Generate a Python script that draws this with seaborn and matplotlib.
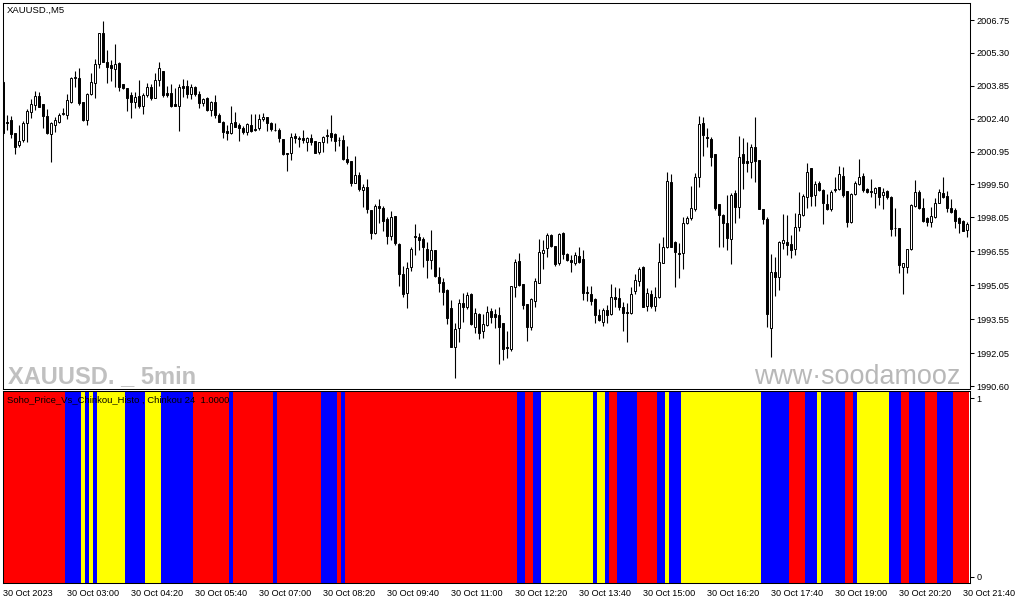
import matplotlib
matplotlib.use("Agg")
import matplotlib.pyplot as plt
import seaborn as sns
import pandas as pd
import numpy as np

# Velas XAUUSD M5 (30 Oct 2023, desde 01:40)
apertura = [
    2004.01, 2002.27, 2002.34, 2001.77, 2001.24, 2001.46, 2002.21, 2002.69, 2003.00, 2003.40,
    2003.04, 2002.51, 2001.72, 2002.12, 2002.25, 2002.60, 2002.56, 2003.13, 2004.19, 2004.19,
    2003.13, 2002.34, 2003.48, 2003.97, 2004.81, 2006.17, 2004.90, 2004.76, 2004.59, 2004.85,
    2003.93, 2003.75, 2003.44, 2003.13, 2003.40, 2002.96, 2003.44, 2003.79, 2003.31, 2004.10,
    2004.50, 2003.53, 2003.53, 2003.04, 2002.96, 2003.84, 2003.84, 2003.48, 2003.79, 2003.48,
    2003.09, 2003.31, 2002.78, 2003.13, 2002.56, 2002.25, 2001.85, 2001.77, 2002.25, 2002.12,
    2001.99, 2001.81, 2002.12, 2001.96, 2001.99, 2002.38, 2002.47, 2002.21, 2001.92, 2001.90,
    2001.50, 2000.88, 2000.88, 2001.63, 2001.56, 2001.54, 2001.37, 2001.54, 2001.41, 2000.93,
    2001.37, 2001.63, 2001.77, 2001.72, 2001.48, 2001.46, 2000.62, 2000.53, 1999.56, 1999.91,
    1999.25, 1999.38, 1998.37, 1997.36, 1998.55, 1998.46, 1997.97, 1997.22, 1998.11, 1996.87,
    1995.55, 1994.71, 1995.85, 1997.22, 1997.18, 1997.09, 1996.65, 1996.17, 1996.61, 1995.42,
    1995.20, 1994.84, 1994.05, 1992.33, 1993.17, 1994.27, 1994.09, 1994.67, 1993.21, 1993.78,
    1993.03, 1993.30, 1993.92, 1993.78, 1993.74, 1993.39, 1992.33, 1992.24, 1994.97, 1996.12,
    1995.11, 1994.22, 1993.21, 1994.36, 1995.15, 1996.47, 1996.69, 1997.27, 1996.78, 1996.03,
    1997.36, 1996.43, 1996.17, 1996.03, 1996.34, 1996.21, 1994.75, 1994.67, 1994.44, 1993.74,
    1993.43, 1993.96, 1993.78, 1994.53, 1994.49, 1994.09, 1993.87, 1993.83, 1994.80, 1995.24,
    1995.85, 1994.14, 1994.67, 1994.14, 1994.53, 1996.03, 1996.74, 1999.61, 1996.96, 1996.47,
    1996.47, 1997.80, 1998.02, 1998.41, 1999.82, 2002.21, 2001.59, 2001.50, 2000.84, 1998.63,
    1998.15, 1997.80, 1997.09, 1999.12, 1998.50, 2000.84, 2000.53, 2000.49, 2001.15, 2000.57,
    1998.41, 1997.97, 1993.17, 1995.63, 1995.42, 1996.91, 1996.96, 1996.87, 1996.65, 1997.62,
    1998.15, 1998.94, 2000.22, 1999.03, 1999.56, 1999.25, 1998.63, 1998.41, 1999.30, 1999.30,
    1999.87, 1999.21, 1997.84, 1999.07, 1999.52, 1999.87, 1999.30, 1999.21, 1999.12, 1999.38,
    1999.03, 1999.21, 1998.94, 1997.60, 1997.58, 1995.85, 1995.85, 1996.65, 1998.55, 1999.16,
    1998.46, 1998.02, 1997.84, 1998.06, 1998.68, 1999.12, 1998.99, 1998.46, 1998.37, 1998.02,
    1997.89, 1997.49,
]
maximo = [
    2004.10, 2002.56, 2002.51, 2001.77, 2002.12, 2002.29, 2002.82, 2003.26, 2003.62, 2003.57,
    2003.04, 2002.82, 2002.25, 2002.47, 2002.65, 2002.87, 2003.48, 2004.23, 2004.50, 2004.63,
    2003.13, 2003.53, 2004.41, 2005.03, 2006.17, 2006.70, 2005.42, 2004.98, 2005.69, 2004.90,
    2003.93, 2003.75, 2003.57, 2003.57, 2004.10, 2003.53, 2003.97, 2003.93, 2004.41, 2004.90,
    2004.50, 2003.84, 2003.93, 2003.75, 2003.93, 2004.15, 2004.10, 2003.93, 2003.84, 2003.62,
    2003.31, 2003.35, 2003.18, 2003.44, 2002.65, 2002.29, 2002.12, 2002.96, 2002.69, 2002.21,
    2002.07, 2002.21, 2002.60, 2002.60, 2002.60, 2002.65, 2002.47, 2002.25, 2002.21, 2001.99,
    2001.50, 2000.88, 2001.77, 2001.77, 2001.63, 2001.90, 2001.59, 2001.72, 2001.41, 2001.37,
    2001.63, 2001.94, 2002.56, 2001.77, 2001.59, 2001.68, 2001.19, 2000.53, 2000.75, 2000.05,
    1999.52, 1999.74, 1998.37, 1998.63, 1998.85, 1998.55, 1998.06, 1998.33, 1998.11, 1996.91,
    1995.90, 1996.08, 1996.74, 1997.75, 1997.36, 1997.18, 1996.96, 1997.49, 1996.61, 1995.85,
    1995.37, 1994.89, 1994.40, 1993.39, 1994.44, 1994.71, 1994.75, 1994.71, 1994.05, 1993.83,
    1993.78, 1994.14, 1994.05, 1994.00, 1994.09, 1993.39, 1993.03, 1995.02, 1996.21, 1996.47,
    1995.11, 1994.22, 1994.49, 1995.37, 1997.09, 1997.05, 1997.36, 1997.31, 1996.78, 1997.36,
    1997.40, 1996.47, 1996.39, 1996.52, 1996.74, 1996.61, 1995.02, 1995.02, 1994.49, 1994.00,
    1994.05, 1994.18, 1995.11, 1994.97, 1994.93, 1994.31, 1994.27, 1994.97, 1995.55, 1995.85,
    1995.90, 1994.93, 1994.84, 1994.97, 1996.91, 1997.18, 2000.05, 1999.96, 1997.00, 1996.91,
    1998.06, 1998.11, 1999.43, 2000.00, 2002.51, 2002.47, 2001.99, 2001.59, 2000.84, 1998.63,
    1998.19, 1999.03, 1999.12, 1999.25, 2001.63, 2001.54, 2001.37, 2001.28, 2002.47, 2000.57,
    1998.41, 1998.06, 1996.43, 1996.30, 1997.00, 1998.19, 1998.15, 1997.27, 1998.24, 1999.16,
    1999.07, 2000.44, 2000.22, 1999.65, 1999.65, 1999.30, 1999.07, 1999.25, 1999.82, 2000.31,
    2000.27, 1999.21, 1999.12, 1999.65, 2000.62, 2000.00, 1999.34, 1999.74, 1999.38, 1999.38,
    1999.34, 1999.25, 1998.99, 1998.46, 1997.58, 1996.03, 1996.65, 1998.63, 1999.69, 1999.25,
    1998.90, 1998.06, 1998.50, 1998.90, 1999.30, 1999.82, 1999.21, 1998.85, 1998.46, 1998.06,
    1997.93, 1997.84,
]
minimo = [
    2001.68, 2001.90, 2001.54, 2000.84, 2001.15, 2001.37, 2001.37, 2002.43, 2002.78, 2002.91,
    2001.99, 2001.72, 2000.49, 2001.81, 2002.21, 2002.56, 2002.38, 2003.09, 2003.79, 2003.00,
    2002.29, 2002.12, 2003.44, 2003.31, 2004.63, 2004.90, 2003.97, 2004.06, 2003.79, 2003.62,
    2003.71, 2002.74, 2002.43, 2002.87, 2002.87, 2002.60, 2003.35, 2003.22, 2003.31, 2003.84,
    2003.35, 2003.35, 2002.91, 2002.96, 2001.85, 2003.35, 2003.31, 2003.26, 2003.40, 2002.87,
    2002.96, 2002.74, 2002.51, 2002.43, 2002.25, 2001.54, 2001.46, 2001.72, 2002.03, 2001.41,
    2001.72, 2001.68, 2001.81, 2001.85, 2001.90, 2002.29, 2001.85, 2001.85, 2001.85, 2001.37,
    2000.80, 2000.09, 2000.57, 2001.32, 2001.15, 2001.32, 2000.97, 2001.24, 2000.88, 2000.84,
    2000.93, 2001.32, 2001.41, 2000.97, 2001.19, 2000.57, 2000.40, 1999.43, 1999.56, 1999.21,
    1998.50, 1998.24, 1997.09, 1997.31, 1997.80, 1997.44, 1996.87, 1997.05, 1996.83, 1995.02,
    1994.53, 1994.05, 1995.68, 1996.39, 1996.61, 1995.85, 1995.37, 1995.77, 1995.42, 1994.75,
    1994.18, 1993.34, 1992.33, 1990.96, 1992.55, 1993.43, 1994.00, 1993.30, 1992.95, 1992.68,
    1992.72, 1993.26, 1993.39, 1993.17, 1991.58, 1991.76, 1991.85, 1992.15, 1994.53, 1995.02,
    1994.00, 1992.59, 1993.08, 1994.09, 1995.15, 1995.77, 1996.30, 1996.74, 1995.90, 1995.94,
    1996.21, 1996.12, 1995.63, 1995.94, 1996.03, 1994.40, 1994.36, 1994.18, 1993.39, 1993.47,
    1993.26, 1993.39, 1993.74, 1994.09, 1993.96, 1993.03, 1992.55, 1993.78, 1994.67, 1995.02,
    1994.09, 1993.92, 1994.05, 1993.92, 1994.49, 1996.03, 1996.69, 1996.74, 1994.97, 1995.37,
    1995.77, 1997.75, 1997.93, 1998.33, 1999.38, 2000.75, 2001.15, 2000.31, 1998.37, 1996.74,
    1996.74, 1996.61, 1995.99, 1997.80, 1998.02, 1999.30, 2000.05, 1999.78, 1999.61, 1998.41,
    1997.75, 1993.21, 1991.89, 1994.58, 1994.84, 1996.65, 1996.39, 1996.25, 1996.39, 1997.44,
    1998.11, 1998.46, 1998.55, 1998.55, 1999.21, 1997.75, 1998.37, 1998.33, 1999.16, 1999.25,
    1998.94, 1997.62, 1997.80, 1999.03, 1999.47, 1999.16, 1999.12, 1998.94, 1998.46, 1998.59,
    1998.41, 1998.85, 1997.22, 1997.22, 1995.59, 1994.67, 1995.59, 1996.61, 1998.50, 1998.41,
    1997.84, 1997.66, 1997.62, 1998.02, 1998.68, 1998.90, 1998.28, 1998.24, 1997.58, 1997.36,
    1997.44, 1997.18,
]
cierre = [
    2001.77, 2002.23, 2001.72, 2001.15, 2001.41, 2002.21, 2002.74, 2003.04, 2003.40, 2002.91,
    2002.51, 2001.77, 2002.21, 2002.34, 2002.56, 2002.65, 2003.22, 2004.19, 2004.23, 2003.09,
    2002.34, 2003.48, 2004.01, 2004.81, 2006.17, 2004.90, 2004.68, 2004.63, 2004.81, 2003.79,
    2003.75, 2003.31, 2003.13, 2003.35, 2002.96, 2003.44, 2003.79, 2003.31, 2004.10, 2004.63,
    2003.44, 2003.44, 2002.96, 2002.96, 2003.79, 2003.75, 2003.48, 2003.79, 2003.48, 2003.09,
    2003.26, 2002.78, 2003.13, 2002.56, 2002.25, 2001.81, 2001.77, 2002.21, 2002.03, 2001.99,
    2001.81, 2002.16, 2001.85, 2001.92, 2002.38, 2002.47, 2002.21, 2001.94, 2001.88, 2001.54,
    2000.84, 2000.84, 2001.59, 2001.54, 2001.52, 2001.46, 2001.54, 2001.37, 2000.88, 2001.37,
    2001.59, 2001.68, 2001.59, 2001.41, 2001.44, 2000.62, 2000.49, 1999.56, 1999.91, 1999.30,
    1999.38, 1998.41, 1997.36, 1998.55, 1998.46, 1997.89, 1997.22, 1998.06, 1996.91, 1995.55,
    1994.67, 1995.81, 1996.67, 1997.18, 1997.05, 1996.74, 1996.17, 1996.61, 1995.46, 1995.15,
    1994.75, 1993.61, 1992.33, 1993.12, 1994.27, 1994.09, 1994.62, 1993.34, 1993.83, 1992.95,
    1993.34, 1993.87, 1993.65, 1993.65, 1993.21, 1992.24, 1992.29, 1995.02, 1996.08, 1995.06,
    1994.18, 1993.21, 1994.44, 1995.24, 1996.52, 1996.61, 1997.27, 1996.78, 1995.99, 1997.31,
    1996.43, 1996.17, 1996.08, 1996.39, 1996.08, 1994.71, 1994.71, 1994.36, 1993.74, 1993.52,
    1993.96, 1993.74, 1994.53, 1994.44, 1994.09, 1993.83, 1993.83, 1994.67, 1995.28, 1995.77,
    1994.09, 1994.71, 1994.14, 1994.53, 1996.08, 1996.74, 1999.65, 1996.74, 1996.52, 1996.43,
    1997.80, 1998.02, 1998.46, 1999.82, 2002.16, 2001.68, 2001.54, 2000.71, 1998.46, 1998.15,
    1997.80, 1997.13, 1999.03, 1998.50, 2000.71, 2000.44, 2000.44, 2001.15, 2000.53, 1998.41,
    1997.97, 1993.78, 1995.63, 1995.42, 1996.96, 1997.05, 1996.83, 1996.61, 1997.62, 1998.19,
    1998.99, 2000.05, 1998.99, 1999.52, 1999.25, 1998.68, 1998.41, 1999.16, 1999.25, 1999.96,
    1999.03, 1997.84, 1999.07, 1999.56, 1999.82, 1999.25, 1999.16, 1999.16, 1999.34, 1998.94,
    1999.16, 1998.94, 1997.53, 1997.56, 1995.94, 1996.03, 1996.65, 1998.59, 1999.16, 1998.46,
    1997.89, 1997.84, 1998.11, 1998.68, 1999.16, 1998.94, 1998.46, 1998.28, 1997.89, 1997.80,
    1997.44, 1997.75,
]

# Escala de precios del eje derecho
precio_ticks = [2006.75, 2005.30, 2003.85, 2002.40, 2000.95, 1999.50,
                1998.05, 1996.55, 1995.05, 1993.55, 1992.05, 1990.60]

# Etiquetas de tiempo (una cada 16 velas)
horas_ticks = ["30 Oct 2023", "30 Oct 03:00", "30 Oct 04:20", "30 Oct 05:40",
               "30 Oct 07:00", "30 Oct 08:20", "30 Oct 09:40", "30 Oct 11:00",
               "30 Oct 12:20", "30 Oct 13:40", "30 Oct 15:00", "30 Oct 16:20",
               "30 Oct 17:40", "30 Oct 19:00", "30 Oct 20:20", "30 Oct 21:40"]
paso_ticks = 16

# Histograma Soho_Price_Vs_Chinkou: tramos (estado, numero de velas)
estado_tramos = [
    ("rojo", 16), ("azul", 4), ("amarillo", 1), ("azul", 1), ("amarillo", 1),
    ("azul", 1), ("amarillo", 7), ("azul", 5), ("amarillo", 4), ("azul", 8),
    ("rojo", 9), ("azul", 1), ("rojo", 10), ("azul", 1), ("rojo", 11),
    ("azul", 4), ("rojo", 1), ("azul", 1), ("rojo", 43), ("azul", 2),
    ("rojo", 2), ("azul", 2), ("amarillo", 13), ("azul", 1), ("amarillo", 2),
    ("azul", 1), ("rojo", 2), ("azul", 5), ("rojo", 5), ("azul", 2),
    ("amarillo", 1), ("azul", 3), ("amarillo", 20), ("azul", 7), ("rojo", 4),
    ("azul", 3), ("amarillo", 1), ("azul", 6), ("rojo", 2), ("azul", 1),
    ("amarillo", 8), ("azul", 3), ("rojo", 2), ("azul", 4), ("rojo", 3),
    ("azul", 4), ("rojo", 4),
]
histo_valor = 1.0
colores = {"rojo": "#ff0000", "azul": "#0000ff", "amarillo": "#ffff00"}


def configurar_estilo():
    sns.set_style("white")
    plt.rcParams['font.family'] = ['Liberation Sans', 'DejaVu Sans']
    plt.rcParams['font.size'] = 6.6
    plt.rcParams['axes.linewidth'] = 0.75
    plt.rcParams['axes.edgecolor'] = 'black'
    plt.rcParams['xtick.color'] = 'black'
    plt.rcParams['ytick.color'] = 'black'


configurar_estilo()

df = pd.DataFrame({"apertura": apertura, "maximo": maximo,
                   "minimo": minimo, "cierre": cierre})
df["barra"] = np.arange(len(df))

estados = [e for e, n in estado_tramos for _ in range(n)]
df_ind = pd.DataFrame({"barra": np.arange(len(estados)),
                       "valor": histo_valor, "estado": estados})

W, H = 1015, 605
fig = plt.figure(figsize=(W / 100, H / 100), dpi=100)
fig.patch.set_facecolor("white")

ax = fig.add_axes([3 / W, 1 - 389 / H, 967 / W, 386 / H])
ax2 = fig.add_axes([3 / W, 1 - 583 / H, 967 / W, 192 / H])

# --- velas ---
alcista = df["cierre"] >= df["apertura"]
base = np.minimum(df["apertura"], df["cierre"])
alto = np.maximum((df["cierre"] - df["apertura"]).abs(), 0.025)
ax.vlines(df["barra"], df["minimo"], df["maximo"], color="black",
          linewidth=0.8, zorder=2)
ax.bar(df["barra"], alto, bottom=base, width=0.55,
       color=np.where(alcista, "white", "black"), edgecolor="black",
       linewidth=0.7, zorder=3)

ax.set_xlim(0, 241.75)
ax.set_ylim(1990.48, 2007.50)
ax.yaxis.tick_right()
ax.set_yticks(precio_ticks, [f"{p:.2f}" for p in precio_ticks])
ax.set_xticks([])
ax.tick_params(axis="y", direction="out", length=3, width=0.75, pad=1.5,
               labelsize=6.6)
for s in ax.spines.values():
    s.set_visible(True)
    s.set_color("black")

ax.text(4 / 967, 1 - 7 / 386, "XAUUSD.,M5", transform=ax.transAxes,
        ha="left", va="center", fontsize=6.8, color="black")
ax.text(5 / 967, 6 / 386, "XAUUSD. _ 5min", transform=ax.transAxes,
        ha="left", va="baseline", fontsize=17, fontweight="bold",
        color="#c0c0c0")
ax.text(751 / 967, 5 / 386, "www·soodamooz", transform=ax.transAxes,
        ha="left", va="baseline", fontsize=19.4, color="#b8b8b8")

# --- histograma indicador ---
margen = 0.05
df_ind["altura"] = df_ind["valor"] + 2 * margen
sns.barplot(data=df_ind, x="barra", y="altura", hue="estado",
            palette=colores, saturation=1, dodge=False, width=1.0,
            native_scale=True, legend=False, errorbar=None, linewidth=0,
            bottom=-margen, ax=ax2)
ax2.set_xlim(0, 241.75)
ax2.set_ylim(-6 / 179, 1 + 7 / 179)
ax2.yaxis.tick_right()
ax2.set_yticks([0, 1], ["0", "1"])
ax2.set_xlabel("")
ax2.set_ylabel("")
ax2.set_xticks(np.arange(0, len(estados), paso_ticks), horas_ticks)
for lbl in ax2.get_xticklabels():
    lbl.set_ha("left")
ax2.tick_params(axis="x", direction="out", length=3, width=0.75, pad=1.5,
                labelsize=6.6)
ax2.tick_params(axis="y", direction="out", length=3, width=0.75, pad=1.5,
                labelsize=6.6)
for s in ax2.spines.values():
    s.set_visible(True)
    s.set_color("black")

ax2.text(4 / 967, 1 - 9 / 192,
         "Soho_Price_Vs_Chinkou_Histo , Chinkou 24  1.0000",
         transform=ax2.transAxes, ha="left", va="center", fontsize=6.8,
         color="black")

fig.savefig("out.png", dpi=100, facecolor="white")
